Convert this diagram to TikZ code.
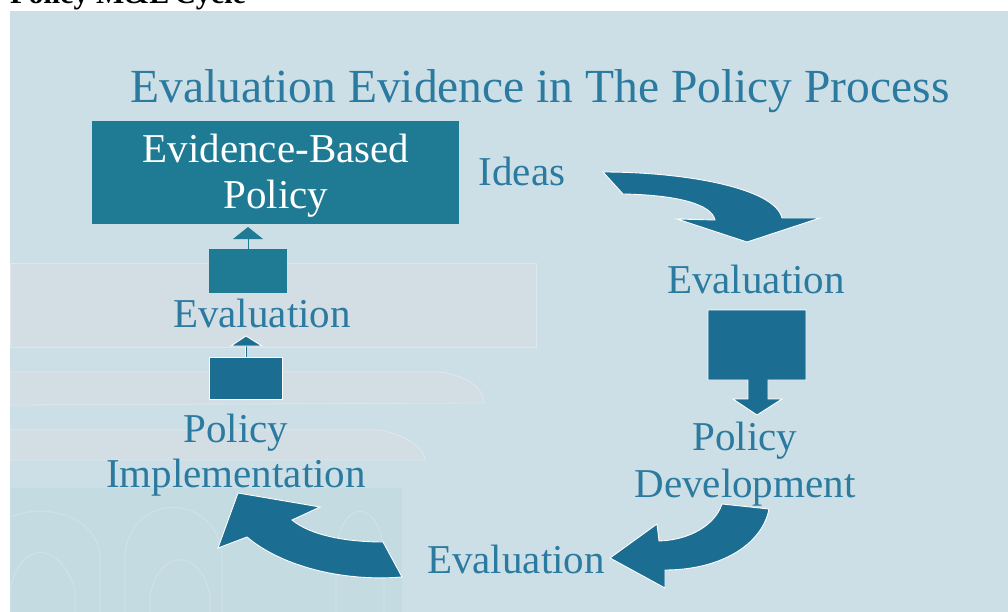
\documentclass[tikz,border=0pt]{standalone}
\usepackage{fontspec}
\setmainfont{Liberation Serif}
\begin{document}
\begin{tikzpicture}[x=1pt,y=-1pt,
  lbl/.style={text=textblue, font=\fontsize{41}{47}\selectfont, inner sep=0pt, align=center},
  blockarrow/.style={fill=arrowblue, draw=white, line width=0.9pt, line join=miter},
  decor/.style={fill=bandtone, fill opacity=0.75, draw=white, draw opacity=0.3, line width=0.8pt}
]
\definecolor{slidebg}{HTML}{CDDFE6}
\definecolor{bandtone}{HTML}{D4DEE4}
\definecolor{textblue}{HTML}{2B7AA0}
\definecolor{arrowblue}{HTML}{1B6D91}
\definecolor{boxteal}{HTML}{1F7A93}
\definecolor{archtone}{HTML}{BCD8DE}

\useasboundingbox (0,0) rectangle (1008,612);
\clip (0,0) rectangle (1008,612);

% page and slide background
\fill[white] (0,0) rectangle (1008,612);
\fill[slidebg] (10,11) rectangle (1008,612);

% faint column capital in the background
\path[decor] (10,263) rectangle (536,347);
\path[decor] (10,372) -- (440,372) .. controls (470,376) and (484,390) .. (484,403)
  -- (10,405) -- cycle;
\path[decor] (10,430) -- (380,430) .. controls (410,436) and (425,450) .. (425,460)
  -- (10,460) -- cycle;
\fill[archtone, opacity=0.55] (10,488) rectangle (402,612);
\begin{scope}[draw=white, draw opacity=0.18, line width=1.2pt]
  \draw (-20,612) -- (-20,560) .. controls (-20,495) and (100,495) .. (100,560) -- (100,612);
  \draw (125,612) -- (125,560) .. controls (125,490) and (222,490) .. (222,560) -- (222,612);
  \draw (336,612) -- (336,560) .. controls (336,495) and (384,495) .. (384,560) -- (384,612);
  \draw (10,612) -- (10,590) .. controls (20,540) and (60,540) .. (75,590) -- (75,612);
  \draw (150,612) -- (150,595) .. controls (160,548) and (200,548) .. (210,595) -- (210,612);
\end{scope}

% cropped heading above the slide
\node[anchor=base west, inner sep=0pt, font=\fontsize{30}{32}\selectfont\bfseries]
  (heading) at (10,4) {Policy M\&E\,Cycle};

% title
\node[text=textblue, font=\fontsize{47.5}{52}\selectfont, inner sep=0pt, anchor=base]
  (title) at (540,103) {Evaluation Evidence in The Policy Process};

% evidence-based policy box
\fill[boxteal] (92,121) rectangle (459,224);
\node[lbl, text=white, anchor=base] (ebp1) at (276,163) {Evidence-Based};
\node[lbl, text=white, anchor=base] (ebp2) at (276,209) {Policy};

% labels around the cycle
\node[lbl, anchor=base] (ideas) at (522,186) {Ideas};
\node[lbl, anchor=base] (evalR) at (756,293) {Evaluation};
\node[lbl, anchor=base] (devA) at (745,450) {Policy};
\node[lbl, anchor=base] (devB) at (745,497) {Development};
\node[lbl, anchor=base] (evalB) at (516,573) {Evaluation};
\node[lbl, anchor=base] (implA) at (236,442) {Policy};
\node[lbl, anchor=base] (implB) at (236,487) {Implementation};
\node[lbl, anchor=base] (evalL) at (262,327) {Evaluation};

% curved arrow: ideas -> evaluation
\path[blockarrow] (603,172) .. controls (685,172) and (775,188) .. (782,218)
  -- (820,218) -- (747,242) -- (677,219) -- (715,220)
  .. controls (712,205) and (680,195) .. (623,194) -- cycle;

% down arrow: evaluation -> policy development
\path[blockarrow] (708,310) -- (806,310) -- (806,380) -- (768,380) -- (768,399)
  -- (782,399) -- (757,415) -- (733,399) -- (748,399) -- (748,380) -- (708,380) -- cycle;

% curved arrow: policy development -> evaluation
\path[blockarrow] (722,504) -- (769,509) .. controls (762,545) and (720,570) .. (665,570)
  -- (665,588) -- (610,558) -- (657,524) -- (659,541)
  .. controls (690,540) and (715,525) .. (722,504) -- cycle;

% curved arrow: evaluation -> policy implementation
\path[blockarrow] (383,542) -- (402,577) .. controls (340,582) and (280,565) .. (247,537)
  -- (218,548) -- (238,493) -- (320,507) -- (292,520)
  .. controls (310,535) and (345,542) .. (383,542) -- cycle;

% up arrow: policy implementation -> evaluation
\fill[arrowblue, draw=white, line width=0.9pt] (209,357) rectangle (282,399);
\draw[white, line width=1.6pt] (246,357) -- (246,346);
\draw[arrowblue, line width=0.8pt] (246,357) -- (246,346);
\path[blockarrow] (231,346) -- (262,346) -- (246,336) -- cycle;

% up arrow: evaluation -> evidence-based policy
\fill[boxteal] (209,249) rectangle (287,293);
\draw[boxteal, line width=0.8pt] (248,249) -- (248,239);
\fill[boxteal] (233,239) -- (263,239) -- (248,227) -- cycle;
\end{tikzpicture}
\end{document}
